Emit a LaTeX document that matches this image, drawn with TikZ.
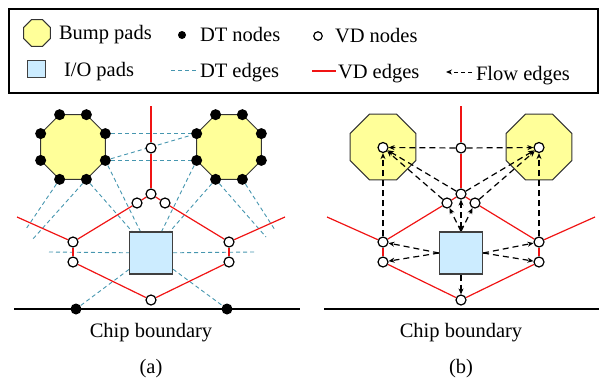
\documentclass[tikz,border=0pt]{standalone}
\usepackage{fontspec}
\setmainfont{Liberation Serif}
\usetikzlibrary{arrows.meta,calc}
\pgfdeclarelayer{bg}
\pgfsetlayers{bg,main}
\definecolor{padyellow}{RGB}{255,255,153}
\definecolor{iofill}{RGB}{204,236,255}
\definecolor{dtblue}{RGB}{70,150,175}
\definecolor{vdred}{RGB}{240,20,20}
\tikzset{flowtip/.tip={Stealth[length=6pt,width=5pt]}}
\begin{document}
\begin{tikzpicture}[x=1pt,y=-1pt,
  lbl/.style={font=\fontsize{20.5}{24.6}\selectfont, inner sep=0pt, outer sep=0pt},
  vdnode/.style={circle, draw=black, fill=white, line width=1.2pt, minimum size=10pt, inner sep=0pt},
  dtnode/.style={circle, fill=black, minimum size=11pt, inner sep=0pt},
  vdedge/.style={draw=vdred, line width=1.2pt},
  dtedge/.style={draw=dtblue, line width=0.9pt, dash pattern=on 4pt off 3pt},
  flowedge/.style={draw=black, line width=1.2pt, dash pattern=on 6pt off 4pt, -flowtip},
  iopad/.style={rectangle, draw=black!75, fill=iofill, line width=1.2pt, minimum width=43pt, minimum height=42pt, inner sep=0pt},
  bump/.style={draw=black!80, fill=padyellow, line width=1pt},
  chipline/.style={draw=black, line width=2.2pt},
]
\useasboundingbox (0,0) rectangle (600,380);

% ---------------- legend ----------------
\draw[line width=1.5pt] (9,9) rectangle (598,93);
\draw[bump] ($(37,33)+(22.5:14.5)$) \foreach \k in {1,...,7}{ -- ($(37,33)+(22.5+45*\k:14.5)$)} -- cycle;
\node[lbl, anchor=base west] (kBump) at (59,39.5) {Bump pads};
\node[dtnode, minimum size=8pt] (kDT) at (182,35) {};
\node[lbl, anchor=base west] (kDTt) at (200,41) {DT nodes};
\node[vdnode, minimum size=8.5pt] (kVD) at (318,36) {};
\node[lbl, anchor=base west] (kVDt) at (335,42) {VD nodes};
\node[iopad, minimum width=18pt, minimum height=17pt, line width=1pt] (kIO) at (36,68.5) {};
\node[lbl, anchor=base west] (kIOt) at (64,76) {I/O pads};
\coordinate (kDTa) at (171,70); \coordinate (kDTb) at (198,70);
\draw[dtedge] (kDTa) -- (kDTb);
\node[lbl, anchor=base west] (kDTe) at (200,77) {DT edges};
\coordinate (kVDa) at (312,71); \coordinate (kVDb) at (336,71);
\draw[vdedge] (kVDa) -- (kVDb);
\node[lbl, anchor=base west] (kVDe) at (338,78) {VD edges};
\coordinate (kFa) at (472,72); \coordinate (kFb) at (446,72);
\draw[flowedge, line width=1pt, dash pattern=on 4pt off 3pt] (kFa) -- (kFb);
\node[lbl, anchor=base west] (kFe) at (476,80) {Flow edges};

% ---------------- panel (a): DT and VD graphs ----------------
\coordinate (padL) at (73,147);
\coordinate (padR) at (229,147);
\begin{pgfonlayer}{bg}
  \foreach \p in {padL,padR}{
    \draw[bump] ($(\p)+(22.5:35)$) \foreach \k in {1,...,7}{ -- ($(\p)+(22.5+45*\k:35)$)} -- cycle;
  }
\end{pgfonlayer}
\foreach \p in {padL,padR}\foreach \k in {0,...,7}
  \node[dtnode] (\p\k) at ($(\p)+(22.5+45*\k:35)$) {};

\node[iopad] (IOa) at (151,253) {};
\node[dtnode] (dtB1) at (76,309) {};
\node[dtnode] (dtB2) at (227,309) {};

\node[vdnode] (v1) at (151,148) {};
\node[vdnode] (v2) at (151,194) {};
\node[vdnode] (v3) at (137,203) {};
\node[vdnode] (v4) at (165,203) {};
\node[vdnode] (v5) at (73,242) {};
\node[vdnode] (v6) at (229,242) {};
\node[vdnode] (v7) at (73,262) {};
\node[vdnode] (v8) at (229,262) {};
\node[vdnode] (v9) at (151,300) {};

\coordinate (topA) at (151,106);
\coordinate (eLA) at (17,217);
\coordinate (eRA) at (285,217);
\coordinate (fa1) at (26,229);
\coordinate (fa2) at (32,240);
\coordinate (fa3) at (266,237);
\coordinate (fa4) at (275,230);
\coordinate (ioW) at (49,252);
\coordinate (ioE) at (255,252);
\coordinate (cbA1) at (14,309);
\coordinate (cbA2) at (300,309);

\begin{pgfonlayer}{bg}
  \draw[chipline] (cbA1) -- (cbA2);
  % Delaunay edges
  \draw[dtedge] (padL7) -- (padR4);
  \draw[dtedge] (padL0) -- (padR3);
  \draw[dtedge] (padL0) -- (padR4);
  \draw[dtedge] (padL0) -- (IOa);
  \draw[dtedge] (padL1) -- (IOa);
  \draw[dtedge] (padR3) -- (IOa);
  \draw[dtedge] (padR2) -- (IOa);
  \draw[dtedge] (padL2) -- (fa1);
  \draw[dtedge] (padL1) -- (fa2);
  \draw[dtedge] (padR2) -- (fa3);
  \draw[dtedge] (padR1) -- (fa4);
  \draw[dtedge] (ioW) -- (IOa);
  \draw[dtedge] (IOa) -- (ioE);
  \draw[dtedge] (IOa) -- (dtB1);
  \draw[dtedge] (IOa) -- (dtB2);
  % Voronoi edges
  \draw[vdedge] (topA) -- (v1);
  \draw[vdedge] (v1) -- (v2);
  \draw[vdedge] (v2) -- (v3);
  \draw[vdedge] (v2) -- (v4);
  \draw[vdedge] (v3) -- (v5);
  \draw[vdedge] (v4) -- (v6);
  \draw[vdedge] (v5) -- (eLA);
  \draw[vdedge] (v6) -- (eRA);
  \draw[vdedge] (v5) -- (v7);
  \draw[vdedge] (v6) -- (v8);
  \draw[vdedge] (v7) -- (v9);
  \draw[vdedge] (v8) -- (v9);
\end{pgfonlayer}

\node[lbl, anchor=base] (cbTa) at (151,337.5) {Chip boundary};
\node[lbl, anchor=base] (capA) at (151,373) {(a)};

% ---------------- panel (b): flow network ----------------
\begin{scope}[xshift=310pt]
\coordinate (padLb) at (73,147);
\coordinate (padRb) at (229,147);
\begin{pgfonlayer}{bg}
  \foreach \p in {padLb,padRb}{
    \draw[bump] ($(\p)+(22.5:35.5)$) \foreach \k in {1,...,7}{ -- ($(\p)+(22.5+45*\k:35.5)$)} -- cycle;
  }
\end{pgfonlayer}

\node[iopad] (IOb) at (151,253) {};
\node[vdnode] (cLb) at (73,147.5) {};
\node[vdnode] (cRb) at (229,147.5) {};
\node[vdnode] (v1b) at (151,148) {};
\node[vdnode] (v2b) at (151,194) {};
\node[vdnode] (v3b) at (137,203) {};
\node[vdnode] (v4b) at (165,203) {};
\node[vdnode] (v5b) at (73,242) {};
\node[vdnode] (v6b) at (229,242) {};
\node[vdnode] (v7b) at (73,262) {};
\node[vdnode] (v8b) at (229,262) {};
\node[vdnode] (v9b) at (151,300) {};

\coordinate (topB) at (151,106);
\coordinate (eLB) at (17,217);
\coordinate (eRB) at (285,217);
\coordinate (cbB1) at (14,309);
\coordinate (cbB2) at (289,309);

\begin{pgfonlayer}{bg}
  \draw[chipline] (cbB1) -- (cbB2);
  % Voronoi edges
  \draw[vdedge] (topB) -- (v1b);
  \draw[vdedge] (v1b) -- (v2b);
  \draw[vdedge] (v2b) -- (v3b);
  \draw[vdedge] (v2b) -- (v4b);
  \draw[vdedge] (v3b) -- (v5b);
  \draw[vdedge] (v4b) -- (v6b);
  \draw[vdedge] (v5b) -- (eLB);
  \draw[vdedge] (v6b) -- (eRB);
  \draw[vdedge] (v5b) -- (v7b);
  \draw[vdedge] (v6b) -- (v8b);
  \draw[vdedge] (v7b) -- (v9b);
  \draw[vdedge] (v8b) -- (v9b);
  % flow edges towards the bump pads
  \draw[flowedge] (v1b) -- (cLb);
  \draw[flowedge] (v1b) -- (cRb);
  \draw[flowedge] (v2b) -- (cLb);
  \draw[flowedge] (v2b) -- (cRb);
  \draw[flowedge] (v3b) -- (cLb);
  \draw[flowedge] (v4b) -- (cRb);
  \draw[flowedge] (v5b) -- (cLb);
  \draw[flowedge] (v6b) -- (cRb);
  % flow edges leaving the I/O pad
  \draw[flowedge] (IOb.north) -- (v3b);
  \draw[flowedge, flowtip-flowtip] (IOb.north) -- (v2b);
  \draw[flowedge] (IOb.north) -- (v4b);
  \draw[flowedge] (IOb.west) -- (v5b);
  \draw[flowedge] (IOb.west) -- (v7b);
  \draw[flowedge] (IOb.east) -- (v6b);
  \draw[flowedge] (IOb.east) -- (v8b);
  \draw[flowedge] (IOb.south) -- (v9b);
\end{pgfonlayer}

\node[lbl, anchor=base] (cbTb) at (151,337.5) {Chip boundary};
\node[lbl, anchor=base] (capB) at (151,373) {(b)};
\end{scope}
\end{tikzpicture}
\end{document}
